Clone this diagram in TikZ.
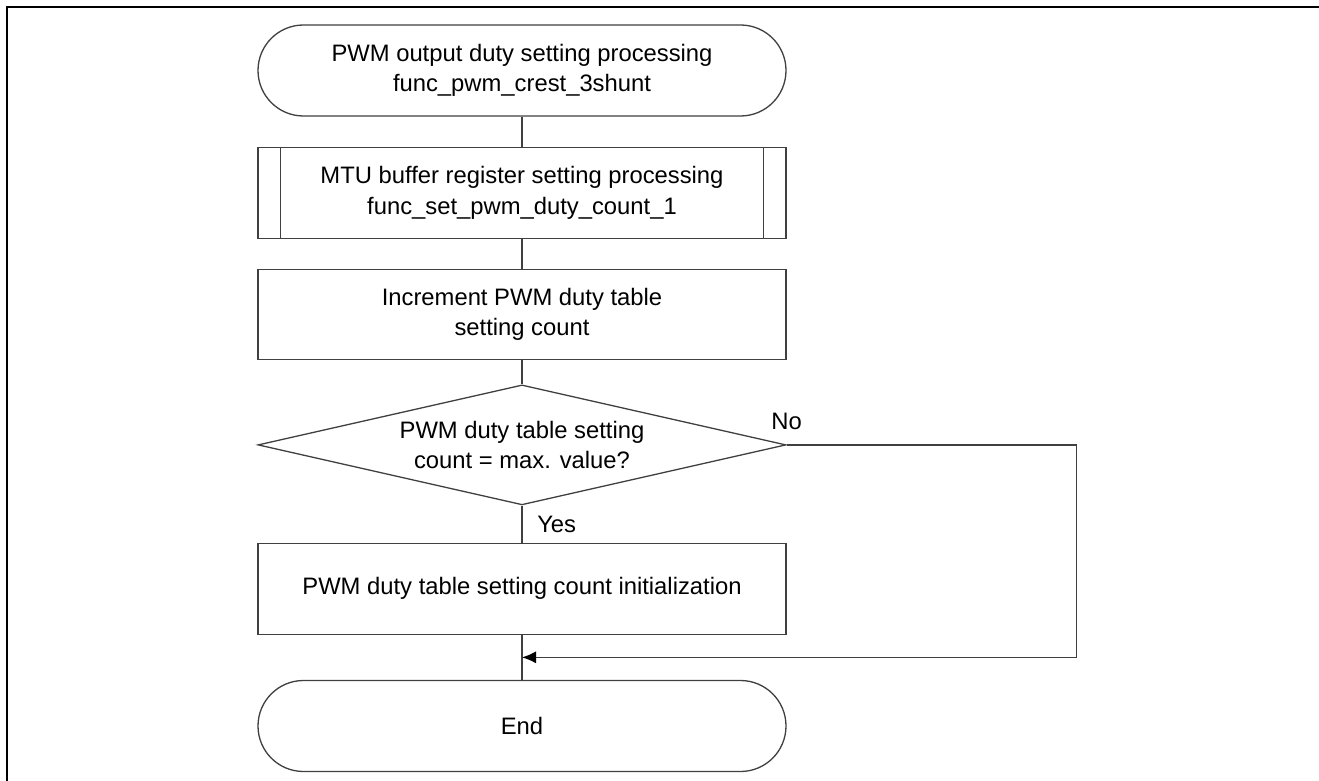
\documentclass[tikz,border=0pt]{standalone}
\usepackage{fontspec}
\setmainfont{Liberation Sans}
\usetikzlibrary{positioning,calc}
\usetikzlibrary{shapes.geometric, arrows.meta}
\tikzset{
  tm/.style={rectangle, rounded corners=22.75pt, minimum width=264pt, minimum height=45.5pt, text centered, align=center, draw=black!75, fill=white},
  pp/.style={rectangle, minimum width=264pt, minimum height=45.5pt, text centered, align=center, draw=black!75, fill=white},
  op/.style={rectangle, minimum width=264pt, minimum height=45pt, text centered, align=center, draw=black!75, fill=white},
  cn/.style={diamond, shape aspect=4.4, inner sep=0pt, minimum width=264pt, minimum height=60pt, text centered, align=center, draw=black!75, fill=white},
  ln/.style={draw=black!75, line width=0.6pt},
  node distance=15pt
}

\begin{document}
\begin{tikzpicture}[line width=0.65pt, font=\fontsize{11.9pt}{15.2pt}\selectfont]
	\useasboundingbox (0,0) rectangle (659.5pt,-390.5pt);
	\draw[line width=1pt] (3.5pt,-390.5pt) -- (3.5pt,-3.5pt) -- (659.5pt,-3.5pt);
	%
	\node[tm] (start) at (261pt,-35.25pt) {PWM output duty setting processing\\func\_pwm\_crest\_3shunt};
	\node[pp, below=of start] (mtu) {MTU buffer register setting processing\\func\_set\_pwm\_duty\_count\_1};
	\node[op, below=of mtu] (incr) {Increment PWM duty table\\setting count};
	\node[cn, below=12pt of incr] (check) {PWM duty table setting\\count = max. value?};
	\node[pp, below=18.5pt of check] (reset) {PWM duty table setting count initialization};
	\node[tm, below=22.5pt of reset] (stop) {End};
	%
	\draw[draw=black!75] ([xshift=11.5pt]mtu.north west) -- ([xshift=11.5pt]mtu.south west);
	\draw[draw=black!75] ([xshift=-11.5pt]mtu.north east) -- ([xshift=-11.5pt]mtu.south east);
	%
	\path (reset.south) -- coordinate[midway] (join) (stop.north);
	\coordinate[xshift=145pt] (noturn) at (check.east);
	%
	\draw[ln] (start) -- (mtu);
	\draw[ln] (mtu) -- (incr);
	\draw[ln] (incr) -- (check);
	\draw[ln] (check) -- node[right, xshift=4pt] {Yes} (reset);
	\draw[ln] (reset) -- (stop);
	\draw[ln, -{Latex[length=7pt, width=6pt, black]}] (check.east) node[above=4pt] {No} -- (noturn) |- (join);
\end{tikzpicture}
\end{document}
